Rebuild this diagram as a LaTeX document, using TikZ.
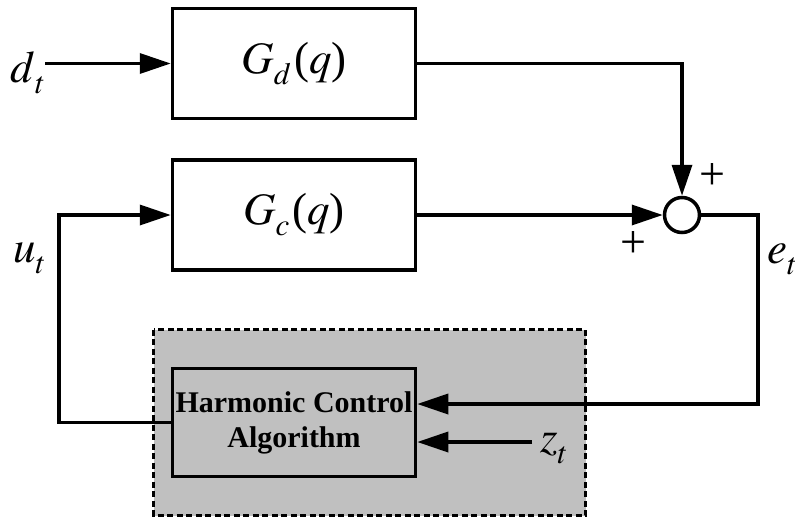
\documentclass[tikz,border=0pt]{standalone}
\usepackage{mathptmx}
\usepackage[no-math]{fontspec}
\setmainfont{Liberation Serif}
\usetikzlibrary{arrows.meta}

\definecolor{hcagray}{RGB}{192,192,192}

% italic symbol with a lowered italic index
\newcommand{\sigsub}[2]{$#1$\raisebox{-11pt}{\fontsize{31}{31}\selectfont$#2$}}

\begin{document}
\begin{tikzpicture}[x=1pt, y=-1pt,
    blk/.style={draw, line width=3.5pt, minimum width=243pt, minimum height=110pt,
        inner sep=0pt, font=\fontsize{45}{45}\selectfont},
    sig/.style={inner sep=0pt, font=\fontsize{45}{45}\selectfont},
    pm/.style={inner sep=0pt, font=\fontsize{46}{46}\selectfont},
    wire/.style={line width=3.5pt, -{Triangle[length=31pt,width=20pt]}}]
    \pgfdeclarelayer{background}
    \pgfsetlayers{background,main}
    \useasboundingbox (0,0) rectangle (795,519);

    % plant and disturbance paths
    \node[blk, fill=white] (gd) at (294,63.5) {\sigsub{G}{d}\kern3pt($q$)};
    \node[blk, fill=white] (gc) at (294,215) {\sigsub{G}{c}\kern3pt($q$)};
    \node[draw, circle, line width=3.5pt, minimum size=35pt, inner sep=0pt, fill=white] (sum) at (682,215) {};

    % controller
    \node[blk, fill=hcagray, minimum height=108pt, align=center,
        font=\bfseries\fontsize{30}{35}\selectfont] (hca) at (294,422.5) {Harmonic Control\\Algorithm};
    \begin{pgfonlayer}{background}
        \draw[fill=hcagray, line width=3.5pt, dash pattern=on 6pt off 3.5pt] (153.5,329.5) rectangle (585.5,515.5);
    \end{pgfonlayer}

    % signal labels
    \node[sig, anchor=base west] (dt) at (10,82) {\sigsub{d}{t}};
    \node[sig, anchor=base west] (ut) at (13,262) {\sigsub{u}{t}};
    \node[sig, anchor=base west] (et) at (767,263) {\sigsub{e}{t}};
    \node[sig, anchor=base west] (zt) at (540,452) {\sigsub{z}{t}};
    \node[pm] (pa) at (712,177) {+};
    \node[pm] (pb) at (633,245) {+};

    \coordinate (fb) at (59,216);
    \coordinate (ecorner) at (758,404);
    \coordinate (zin) at (532,442);

    \draw[wire] (dt.east |- gd.west) -- (gd.west);
    \draw[wire] (gd.east) -| (sum.north);
    \draw[wire] (gc.east) -- (sum.west);
    \draw[wire] (sum.east) -| (ecorner) -- (ecorner -| hca.east);
    \draw[wire] (zin) -- (zin -| hca.east);
    \draw[wire] (hca.west) -| (fb) |- (gc.west);
\end{tikzpicture}
\end{document}
